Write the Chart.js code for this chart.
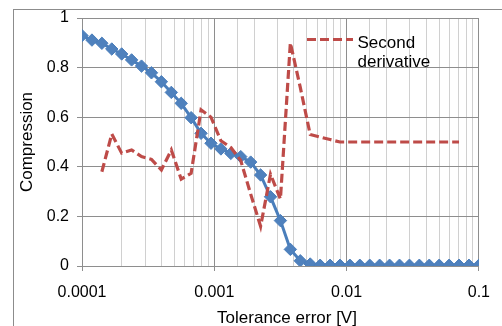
<!doctype html>
<html lang="en">
  <head>
    <meta charset="utf-8">
    <title>Compression vs tolerance error</title>
    <style>
      * {
        margin: 0;
        padding: 0;
      }
      body {
        background: #fff;
      }
    </style>
  </head>
  <body>
    <canvas id="myChart" width="502" height="326"></canvas>
    <script src="https://cdn.jsdelivr.net/npm/chart.js"></script>
    <script>
    // data
    const tolerance = [
      0.0001, 0.0001189, 0.0001413, 0.0001679, 0.0001995, 0.0002371, 0.0002818, 0.000335,
      0.0003981, 0.0004732, 0.0005623, 0.0006683, 0.0007943, 0.0009441, 0.001122, 0.001334,
      0.001585, 0.001884, 0.002239, 0.002661, 0.003162, 0.003758, 0.004467, 0.005309,
      0.00631, 0.007499, 0.008913, 0.01059, 0.01259, 0.01496, 0.01778, 0.02113,
      0.02512, 0.02985, 0.03548, 0.04217, 0.05012, 0.05957, 0.07079, 0.08414, 0.1
    ];
    const compression = [
      0.929, 0.911, 0.898, 0.875, 0.855, 0.831, 0.806, 0.779,
      0.743, 0.700, 0.656, 0.598, 0.535, 0.495, 0.472, 0.454,
      0.441, 0.419, 0.367, 0.279, 0.183, 0.067, 0.021, 0.008,
      0.003, 0.003, 0.003, 0.003, 0.003, 0.003, 0.003, 0.003,
      0.003, 0.003, 0.003, 0.003, 0.003, 0.003, 0.003, 0.003, 0.003
    ];
    const secondDerivative = [
      null, null, 0.38, 0.532, 0.455, 0.468, 0.441, 0.43,
      0.387, 0.468, 0.35, 0.374, 0.63, 0.60, 0.505, 0.478,
      0.425, 0.29, 0.16, 0.37, 0.27, 0.90, 0.72, 0.53,
      0.52, 0.51, 0.50, 0.50, 0.50, 0.50, 0.50, 0.50,
      0.50, 0.50, 0.50, 0.50, 0.50, 0.50, 0.50, null, null
    ];
    const xTickValues = [0.0001, 0.001, 0.01, 0.1];
    const xTickLabels = ['0.0001', '0.001', '0.01', '0.1'];
    const yTickLabels = ['0', '0.2', '0.4', '0.6', '0.8', '1'];

    const blue = '#4a7ebb';
    const red = '#be4b48';
    const majorGrid = '#8e8e8e';
    const minorGrid = '#d0d0d0';
    const font = 'Liberation Sans';

    const isDecade = (v) => {
      const l = Math.log10(v);
      return Math.abs(l - Math.round(l)) < 1e-6;
    };

    const data = {
      datasets: [{
        label: 'Compression',
        data: tolerance.map((t, i) => ({ x: t, y: compression[i] })),
        borderColor: blue,
        backgroundColor: '#4f81bd',
        borderWidth: 3,
        pointStyle: 'rectRot',
        pointRadius: 6.2,
        pointBorderWidth: 1,
        pointBorderColor: blue,
        order: 1
      },
      {
        label: 'Second derivative',
        data: tolerance.map((t, i) => ({ x: t, y: secondDerivative[i] })),
        borderColor: red,
        borderWidth: 3.2,
        borderDash: [9, 4],
        pointRadius: 0,
        order: 0
      }]
    };

    // outer frame of the chart object
    const frame = {
      id: 'frame',
      beforeDraw(chart) {
        const { ctx } = chart;
        ctx.save();
        ctx.fillStyle = '#fff';
        ctx.fillRect(0, 0, chart.width, chart.height);
        ctx.strokeStyle = '#8c8c8c';
        ctx.lineWidth = 1;
        ctx.strokeRect(13.5, 9.5, 700, 700);
        ctx.restore();
      }
    };

    // legend block (only the red series has an entry) + x axis title
    const sideLegend = {
      id: 'sideLegend',
      afterDraw(chart) {
        const { ctx } = chart;
        ctx.save();
        ctx.strokeStyle = red;
        ctx.lineWidth = 3.2;
        ctx.setLineDash([9, 4]);
        ctx.beginPath();
        ctx.moveTo(307, 39.5);
        ctx.lineTo(353, 39.5);
        ctx.stroke();
        ctx.setLineDash([]);
        ctx.fillStyle = '#000';
        ctx.font = '17px "' + font + '"';
        ctx.textAlign = 'left';
        ctx.textBaseline = 'alphabetic';
        ctx.fillText('Second', 357.5, 47.5);
        ctx.fillText('derivative', 357.5, 66.5);
        ctx.textAlign = 'center';
        ctx.fillText('Tolerance error [V]', 287, 323);
        ctx.restore();
      }
    };

    const config = {
      type: 'line',
      data,
      options: {
        responsive: false,
        animation: false,
        layout: {
          padding: { left: 0, top: 18, right: 18, bottom: 0 }
        },
        scales: {
          x: {
            type: 'logarithmic',
            min: 0.0001,
            max: 0.1,
            afterFit: (scale) => { scale.height = 60; },
            ticks: {
              autoSkip: false,
              maxRotation: 0,
              padding: 12,
              color: '#000',
              font: { family: font, size: 16 },
              callback: (v) => {
                const k = xTickValues.findIndex((d) => Math.abs(d - v) / d < 1e-6);
                return k >= 0 ? xTickLabels[k] : '';
              }
            },
            grid: {
              color: (ctx) => isDecade(ctx.tick.value) ? majorGrid : minorGrid,
              tickColor: (ctx) => isDecade(ctx.tick.value) ? majorGrid : 'rgba(0,0,0,0)',
              tickLength: 5
            },
            border: { color: majorGrid }
          },
          y: {
            min: 0,
            max: 1,
            afterFit: (scale) => { scale.width = 82; },
            ticks: {
              stepSize: 0.2,
              padding: 8,
              color: '#000',
              font: { family: font, size: 16 },
              callback: (v, i) => yTickLabels[i]
            },
            grid: {
              color: majorGrid,
              tickLength: 5
            },
            border: { color: majorGrid },
            title: {
              display: true,
              text: 'Compression',
              color: '#000',
              font: { family: font, size: 17 },
              padding: { top: 17, bottom: 0 }
            }
          }
        },
        plugins: {
          legend: { display: false },
          tooltip: { enabled: false }
        }
      },
      plugins: [frame, sideLegend]
    };

    const myChart = new Chart(
      document.getElementById('myChart'),
      config
    );
    </script>
  </body>
</html>
